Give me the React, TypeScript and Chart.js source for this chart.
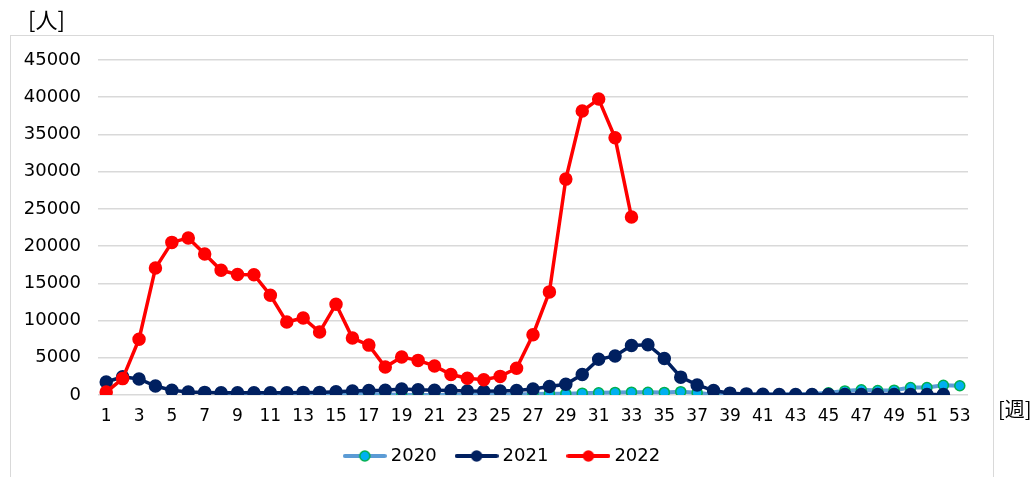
import React, { useEffect, useRef } from "react";
import { Chart, registerables } from "chart.js";

Chart.register(...registerables);

const weeks: string[] = [
  "1","2","3","4","5","6","7","8","9","10","11","12","13","14","15","16","17","18","19","20",
  "21","22","23","24","25","26","27","28","29","30","31","32","33","34","35","36","37","38","39","40",
  "41","42","43","44","45","46","47","48","49","50","51","52","53",
];

const series2020: (number | null)[] = [
  null, null, null, null, null, null, null,
  0, 0, 10, 20, 40, 80, 150, 200, 180, 120, 60, 30, 10,
  5, 5, 5, 10, 20, 60, 130, 180, 180, 250, 300, 350, 380, 360, 350, 450, 300, 20, 30, 50,
  60, 80, 100, 150, 300, 550, 700, 600, 650, 1000, 1000, 1300, 1250,
];

const series2021: (number | null)[] = [
  1750, 2450, 2150, 1200, 650, 400, 350, 300, 300, 300, 300, 300, 350, 350, 450, 550, 600, 650, 800, 700,
  650, 600, 550, 500, 550, 600, 800, 1150, 1450, 2750, 4800, 5250, 6650, 6750, 4900, 2400, 1350, 600, 250, 150,
  100, 80, 60, 60, 60, 60, 60, 60, 60, 60, 60, 60, null,
];

const series2022: (number | null)[] = [
  400, 2200, 7500, 17050, 20500, 21100, 18950, 16750, 16200, 16150, 13400, 9800, 10350, 8450, 12200, 7650, 6700, 3750, 5100, 4650,
  3900, 2750, 2250, 2050, 2500, 3600, 8100, 13850, 29000, 38150, 39750, 34550, 23900,
  null, null, null, null, null, null, null, null, null, null, null, null, null, null, null, null, null, null, null, null,
];

const seriesNames = ["2020", "2021", "2022"];
const yTicks = [0, 5000, 10000, 15000, 20000, 25000, 30000, 35000, 40000, 45000];

const TICK_FONT = "'DejaVu Sans', sans-serif";

function legendIcon(line: string, fill: string, stroke: string): HTMLCanvasElement {
  const c = document.createElement("canvas");
  c.width = 44;
  c.height = 14;
  const ctx = c.getContext("2d")!;
  ctx.strokeStyle = line;
  ctx.lineWidth = 4;
  ctx.lineCap = "round";
  ctx.beginPath();
  ctx.moveTo(2, 7);
  ctx.lineTo(42, 7);
  ctx.stroke();
  ctx.beginPath();
  ctx.arc(22, 7, 5, 0, Math.PI * 2);
  ctx.fillStyle = fill;
  ctx.fill();
  ctx.lineWidth = 1.5;
  ctx.strokeStyle = stroke;
  ctx.stroke();
  return c;
}

const legendShift = {
  id: "legendShift",
  afterLayout(chart: any) {
    const lg = chart.legend;
    if (lg) {
      lg.left += 20;
      lg.right += 20;
    }
  },
};

export default function App() {
  const ref = useRef<HTMLCanvasElement | null>(null);

  useEffect(() => {
    if (!ref.current) return;
    const icons = [
      legendIcon("#5B9BD5", "#00B0F0", "#00B050"),
      legendIcon("#002060", "#002060", "#002060"),
      legendIcon("#FF0000", "#FF0000", "#FF0000"),
    ];
    const chart = new Chart(ref.current, {
      type: "line",
      data: {
        labels: weeks,
        datasets: [
          {
            label: seriesNames[0],
            data: series2020,
            borderColor: "#5B9BD5",
            backgroundColor: "#00B0F0",
            pointBackgroundColor: "#00B0F0",
            pointBorderColor: "#00B050",
            pointBorderWidth: 1.5,
            pointRadius: 5,
            borderWidth: 4,
            order: 3,
          },
          {
            label: seriesNames[1],
            data: series2021,
            borderColor: "#002060",
            backgroundColor: "#002060",
            pointBackgroundColor: "#002060",
            pointBorderColor: "#002060",
            pointRadius: 5,
            borderWidth: 3.5,
            order: 2,
          },
          {
            label: seriesNames[2],
            data: series2022,
            borderColor: "#FF0000",
            backgroundColor: "#FF0000",
            pointBackgroundColor: "#FF0000",
            pointBorderColor: "#FF0000",
            pointRadius: 5,
            borderWidth: 3.5,
            order: 1,
          },
        ],
      },
      plugins: [legendShift],
      options: {
        animation: false,
        responsive: false,
        maintainAspectRatio: false,
        spanGaps: false,
        layout: { padding: { top: 60, right: 67, left: 0, bottom: 2 } },
        plugins: {
          tooltip: { enabled: false },
          legend: {
            position: "bottom",
            labels: {
              usePointStyle: true,
              pointStyleWidth: 34,
              padding: 23,
              color: "#000",
              font: { family: TICK_FONT, size: 18 },
              generateLabels: (ch: any) =>
                ch.data.datasets.map((ds: any, i: number) => ({
                  text: ds.label,
                  pointStyle: icons[i],
                  fillStyle: ds.backgroundColor,
                  strokeStyle: ds.borderColor,
                  lineWidth: 0,
                  hidden: false,
                  datasetIndex: i,
                  fontColor: "#000",
                })),
            },
          },
        },
        scales: {
          x: {
            offset: true,
            grid: { display: false, drawTicks: false },
            border: { display: false },
            ticks: {
              autoSkip: false,
              maxRotation: 0,
              padding: 11,
              color: "#000",
              font: { family: TICK_FONT, size: 17 },
              callback: (_v: any, i: number) => (i % 2 === 0 ? weeks[i] : ""),
            },
            afterFit: (s: any) => {
              s.height = 29;
            },
          },
          y: {
            min: 0,
            max: 45000,
            afterBuildTicks: (s: any) => {
              s.ticks = yTicks.map((v) => ({ value: v }));
            },
            grid: { color: "#d9d9d9", lineWidth: 1.5, drawTicks: false },
            border: { display: false },
            ticks: {
              padding: 17,
              color: "#000",
              font: { family: TICK_FONT, size: 18 },
              callback: (v: any) => String(v),
            },
            afterFit: (s: any) => {
              s.width = 98;
            },
          },
        },
      },
    });
    return () => chart.destroy();
  }, []);

  return (
    <div style={{ position: "absolute", left: 0, top: 0, width: 1035, height: 477, overflow: "hidden", background: "#fff" }}>
      <div
        style={{
          position: "absolute",
          left: 10,
          top: 35,
          width: 982,
          height: 470,
          border: "1px solid #d9d9d9",
        }}
      />
      <canvas ref={ref} width={1035} height={477} style={{ position: "absolute", left: 0, top: 0, width: 1035, height: 477 }} />
      <div
        style={{
          position: "absolute",
          left: 28,
          top: 3,
          fontFamily: "'Noto Sans CJK JP', sans-serif",
          fontSize: 22,
          lineHeight: "30px",
          color: "#000",
        }}
      >
        [人]
      </div>
      <div
        style={{
          position: "absolute",
          left: 998,
          top: 395,
          fontFamily: "'Noto Sans CJK JP', sans-serif",
          fontSize: 20,
          lineHeight: "28px",
          color: "#000",
        }}
      >
        [週]
      </div>
    </div>
  );
}
